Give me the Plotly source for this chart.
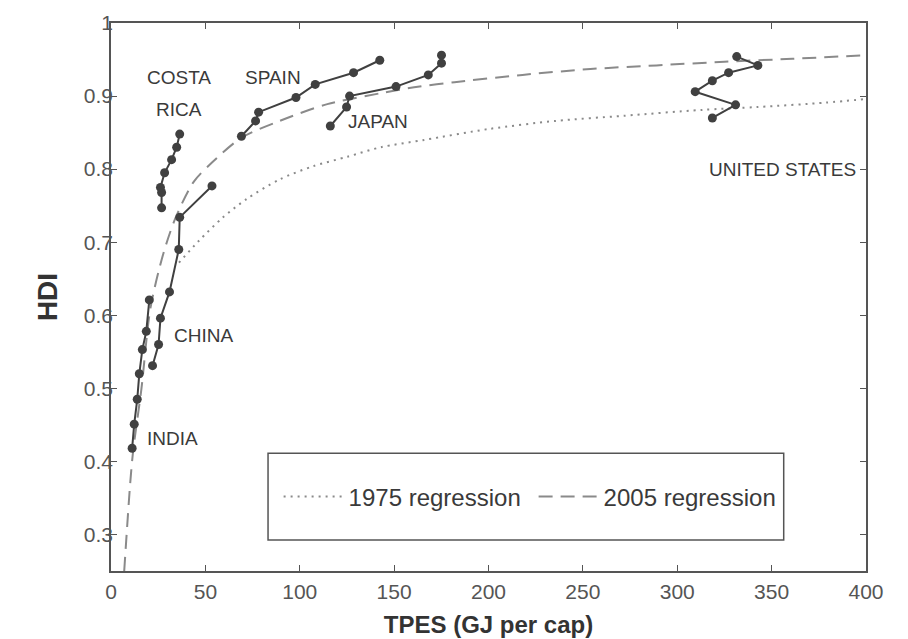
import plotly.graph_objects as go

# ---- data ----
india_x = [11.2, 12.3, 13.9, 15.0, 16.6, 18.7, 20.3]
india_y = [0.418, 0.451, 0.485, 0.520, 0.553, 0.578, 0.621]

china_x = [22.0, 25.2, 26.2, 31.0, 35.9, 36.4, 53.5]
china_y = [0.531, 0.560, 0.596, 0.632, 0.690, 0.734, 0.777]

costa_x = [26.8, 26.8, 26.2, 28.4, 32.1, 34.8, 36.4]
costa_y = [0.747, 0.768, 0.775, 0.795, 0.813, 0.830, 0.848]

spain_x = [69.1, 76.6, 78.2, 98.0, 108.2, 128.5, 142.4]
spain_y = [0.845, 0.866, 0.878, 0.898, 0.916, 0.932, 0.949]

japan_x = [116.2, 124.8, 126.4, 151.0, 168.1, 175.1, 175.1]
japan_y = [0.859, 0.885, 0.900, 0.913, 0.929, 0.945, 0.956]

us_x = [318.6, 330.9, 309.5, 318.6, 327.2, 342.7, 331.5]
us_y = [0.870, 0.888, 0.906, 0.921, 0.932, 0.942, 0.954]

reg1975_x = [36.0, 46.6, 58.9, 71.8, 89.4, 107.1, 125.3, 143.0, 166.0, 200.3,
             235.6, 271.5, 312.7, 342.7, 378.6, 400.0]
reg1975_y = [0.672, 0.702, 0.733, 0.759, 0.786, 0.804, 0.817, 0.830, 0.840, 0.855,
             0.866, 0.873, 0.881, 0.885, 0.891, 0.896]

reg2005_x = [7.0, 10.2, 11.8, 16.1, 20.9, 27.8, 34.3, 43.9, 53.5, 69.1, 89.4,
             114.6, 143.0, 160.6, 182.0, 218.0, 254.0, 289.0, 325.0, 361.0, 400.0]
reg2005_y = [0.250, 0.371, 0.416, 0.499, 0.610, 0.685, 0.734, 0.783, 0.809, 0.843, 0.866,
             0.889, 0.904, 0.912, 0.919, 0.929, 0.937, 0.942, 0.947, 0.951, 0.956]

x_ticks = [0, 50, 100, 150, 200, 250, 300, 350, 400]
y_ticks = [0.3, 0.4, 0.5, 0.6, 0.7, 0.8, 0.9, 1.0]
y_tick_text = ["0.3", "0.4", "0.5", "0.6", "0.7", "0.8", "0.9", "1"]

labels = [
    ("COSTA", 35.8, 0.925, "center"),
    ("RICA", 35.8, 0.881, "center"),
    ("SPAIN", 85.6, 0.925, "center"),
    ("JAPAN", 141.7, 0.865, "center"),
    ("UNITED STATES", 395.5, 0.800, "right"),
    ("CHINA", 32.3, 0.572, "left"),
    ("INDIA", 18.0, 0.432, "left"),
]

FONT = "Liberation Sans, Arial, sans-serif"
DARK = "#404040"
AX = "#555555"

fig = go.Figure()

# regression curves (legend)
fig.add_trace(go.Scatter(
    x=reg1975_x, y=reg1975_y, mode="lines", name="1975 regression",
    line=dict(color="#8a8a8a", width=2, dash="2px,5px", shape="spline", smoothing=0.8),
))
fig.add_trace(go.Scatter(
    x=reg2005_x, y=reg2005_y, mode="lines", name="2005 regression",
    line=dict(color="#8a8a8a", width=2, dash="14px,8px", shape="spline", smoothing=0.8),
))

for xs, ys in [(india_x, india_y), (china_x, china_y), (costa_x, costa_y),
               (spain_x, spain_y), (japan_x, japan_y), (us_x, us_y)]:
    fig.add_trace(go.Scatter(
        x=xs, y=ys, mode="lines+markers", showlegend=False,
        line=dict(color=DARK, width=2),
        marker=dict(color=DARK, size=9),
    ))

for text, lx, ly, anchor in labels:
    fig.add_annotation(x=lx, y=ly, text=text, showarrow=False, xanchor=anchor,
                       yanchor="middle", font=dict(family=FONT, size=19, color="#3a3a3a"))

# legend box
fig.add_shape(type="rect", xref="paper", yref="paper",
              x0=0.208, x1=0.891, y0=0.0566, y1=0.215,
              line=dict(color=AX, width=1.5), fillcolor="rgba(0,0,0,0)", layer="above")

axis_common = dict(
    showgrid=False, zeroline=False, showline=True, linecolor=AX, linewidth=1.5,
    mirror="ticks", ticks="inside", ticklen=6, tickcolor=AX, tickwidth=1.2,
    tickfont=dict(family=FONT, size=21, color="#555555"),
)

fig.update_layout(
    width=900, height=631,
    margin=dict(l=103, r=42, t=15, b=68, autoexpand=False),
    plot_bgcolor="white", paper_bgcolor="white",
    xaxis=dict(range=[0, 400], tickvals=x_ticks, ticklabelstandoff=1, **axis_common,
               title=dict(text="<b>TPES (GJ per cap)</b>", standoff=14,
                          font=dict(family=FONT, size=24, color="#333333"))),
    yaxis=dict(range=[0.25, 1.0], tickvals=y_ticks, ticktext=y_tick_text,
               ticklabelstandoff=-8, **axis_common,
               title=dict(text="<b>HDI</b>", standoff=18,
                          font=dict(family=FONT, size=28, color="#333333"))),
    legend=dict(orientation="h", x=0.222, y=0.135, xanchor="left", yanchor="middle",
                bgcolor="rgba(0,0,0,0)", borderwidth=0, entrywidth=180, itemwidth=60,
                font=dict(family=FONT, size=24, color="#3a3a3a")),
)

fig.write_html("out.html")
